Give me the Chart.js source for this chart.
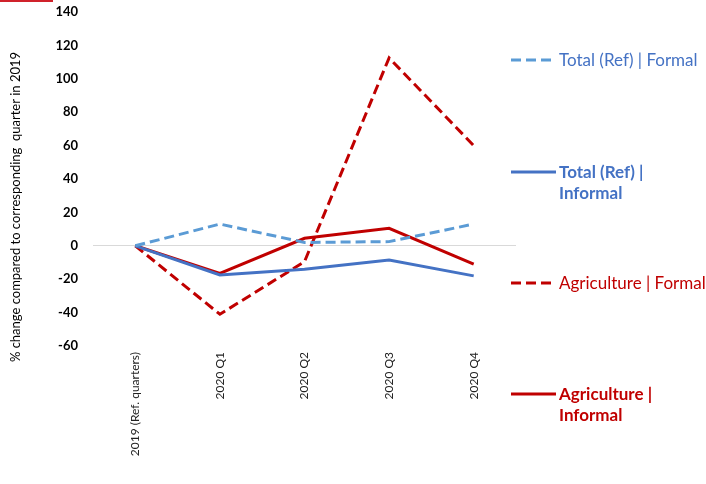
<!DOCTYPE html>
<html><head><meta charset="utf-8">
<script src="https://cdn.jsdelivr.net/npm/chart.js@4"></script>
<style>html,body{margin:0;padding:0;background:#fff}canvas{display:block}</style>
</head><body>
<canvas id="c" width="706" height="484"></canvas>
<script>
const categories = ['2019 (Ref. quarters)', '2020 Q1', '2020 Q2', '2020 Q3', '2020 Q4'];
const totalFormal = [0, 13, 2, 2.5, 13];
const totalInformal = [0, -17.5, -14, -8.5, -18];
const agriFormal = [0, -41, -9.5, 112.5, 60];
const agriInformal = [0, -16.5, 4.5, 10.5, -11];
const seriesLabels = ['Total (Ref) | Formal', 'Total (Ref) | Informal', 'Agriculture | Formal', 'Agriculture | Informal'];
const yMin = -60, yMax = 140, yStep = 20;
const yTitle = '% change compared to corresponding  quarter in 2019';

const FONT = 'Lato, "Open Sans", sans-serif';
const blueLight = '#5B9BD5', blue = '#4472C4', red = '#C00000';

const decorPlugin = {
  id: 'decor',
  afterDraw(chart) {
    const ctx = chart.ctx;
    const layout = [
      {y: 60, bold: false, textColor: blue},
      {y: 172, bold: true, textColor: blue},
      {y: 283, bold: false, textColor: red},
      {y: 394, bold: true, textColor: red}
    ];
    chart.data.datasets.forEach((ds, i) => {
      const L = layout[i];
      ctx.save();
      ctx.strokeStyle = ds.borderColor;
      ctx.lineWidth = 3;
      ctx.setLineDash(ds.borderDash || []);
      ctx.beginPath();
      ctx.moveTo(511, L.y);
      ctx.lineTo(556, L.y);
      ctx.stroke();
      ctx.setLineDash([]);
      ctx.fillStyle = L.textColor;
      ctx.font = (L.bold ? 'bold ' : '') + '17px ' + FONT;
      ctx.textBaseline = 'middle';
      let lines = [ds.label];
      if (L.bold) {
        const k = ds.label.indexOf('|');
        lines = [ds.label.slice(0, k + 1), ds.label.slice(k + 1).trim()];
      }
      lines.forEach((t, j) => ctx.fillText(t, 559, L.y + 1 + j * 20.5));
      ctx.restore();
    });
    // y-axis title
    ctx.save();
    ctx.translate(16, 207);
    ctx.rotate(-Math.PI / 2);
    ctx.fillStyle = '#000';
    ctx.font = '13px ' + FONT;
    ctx.textAlign = 'center';
    ctx.textBaseline = 'middle';
    ctx.fillText(yTitle, 0, 0);
    ctx.restore();
    ctx.save();
    ctx.fillStyle = '#D0222B';
    ctx.fillRect(0, 0, 53, 2);
    ctx.restore();
  }
};

new Chart(document.getElementById('c'), {
  type: 'line',
  data: {
    labels: categories,
    datasets: [
      {label: seriesLabels[0], data: totalFormal, borderColor: blueLight, borderDash: [10, 5]},
      {label: seriesLabels[1], data: totalInformal, borderColor: blue},
      {label: seriesLabels[2], data: agriFormal, borderColor: red, borderDash: [10, 5]},
      {label: seriesLabels[3], data: agriInformal, borderColor: red}
    ].map(d => Object.assign({borderWidth: 3, pointRadius: 0, fill: false, tension: 0, borderJoinStyle: 'miter'}, d))
  },
  options: {
    responsive: false,
    animation: false,
    layout: {padding: {top: 12, right: 190, left: 0, bottom: 0}},
    plugins: {legend: {display: false}, tooltip: {enabled: false}},
    scales: {
      x: {
        offset: true,
        grid: {display: false, drawTicks: false},
        border: {display: false},
        ticks: {minRotation: 90, maxRotation: 90, padding: 6, color: '#222', font: {family: FONT, size: 12}},
        afterFit(s) { s.height = 138; s.paddingLeft = 0; s.paddingRight = 0; }
      },
      y: {
        min: yMin, max: yMax,
        ticks: {stepSize: yStep, padding: 15, color: '#000', font: {family: FONT, size: 13, weight: 'bold'}},
        grid: {drawTicks: false, color: c => c.tick && c.tick.value === 0 ? '#D9D9D9' : 'rgba(0,0,0,0)', lineWidth: 1},
        border: {display: false},
        afterFit(s) { s.width = 93; s.paddingTop = 0; s.paddingBottom = 0; }
      }
    }
  },
  plugins: [decorPlugin]
});
</script>
</body></html>
